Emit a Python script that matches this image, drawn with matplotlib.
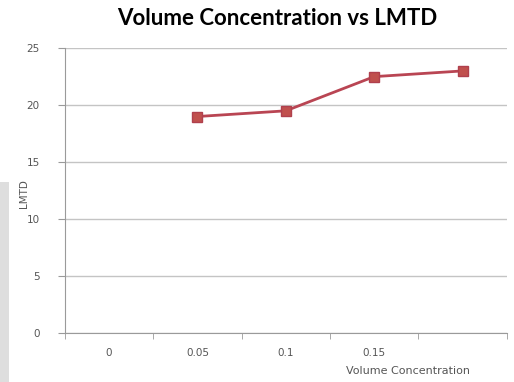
import numpy as np
import matplotlib
matplotlib.use("Agg")
import matplotlib.pyplot as plt
from matplotlib.patches import Rectangle

# Data
categories = ["0", "0.05", "0.1", "0.15", ""]
lmtd = [np.nan, 19.0, 19.5, 22.5, 23.0]
y_ticks = [0, 5, 10, 15, 20, 25]

plt.rcParams['font.family'] = ['DejaVu Sans']

fig = plt.figure(figsize=(5.14, 3.82), dpi=100)

# faint grey strip at the lower left of the picture
fig.patches.append(Rectangle((0, 0), 9 / 514, 200 / 382, transform=fig.transFigure,
                             facecolor="#dedede", edgecolor="none", zorder=-1))

ax = fig.add_axes([0.126, 0.128, 0.86, 0.746])

x = np.arange(len(categories))
ax.plot(x, lmtd, color="#B94553", lw=2, marker="s", ms=7,
        markerfacecolor="#C0504D", markeredgecolor="#B0404D", zorder=3)

ax.set_xlim(-0.5, len(categories) - 0.5)
ax.set_ylim(0, 25)
ax.set_yticks(y_ticks)
ax.set_xticks(x)
ax.set_xticklabels(categories)
ax.set_xticks(np.arange(-0.5, len(categories)), minor=True)

ax.grid(axis="y", color="#c4c4c4", lw=1)
ax.set_axisbelow(True)
for s in ["top", "right"]:
    ax.spines[s].set_visible(False)
for s in ["left", "bottom"]:
    ax.spines[s].set_color("#9a9a9a")

ax.tick_params(axis="y", length=5, color="#9a9a9a", labelsize=7.5, labelcolor="#555555", pad=13)
ax.tick_params(axis="x", which="major", length=0, labelsize=7.5, labelcolor="#555555", pad=11)
ax.tick_params(axis="x", which="minor", length=4, color="#9a9a9a")

ax.set_title("Volume Concentration vs LMTD", fontsize=16, fontweight="bold",
             family=["Lato", "DejaVu Sans"], pad=17, x=0.48)
ax.set_ylabel("LMTD", fontsize=7.5, color="#555555")
ax.yaxis.set_label_coords(-0.082, 0.49)
fig.text(0.915, 0.022, "Volume Concentration", fontsize=8, color="#555555", ha="right")

fig.savefig("out.png", dpi=100)
